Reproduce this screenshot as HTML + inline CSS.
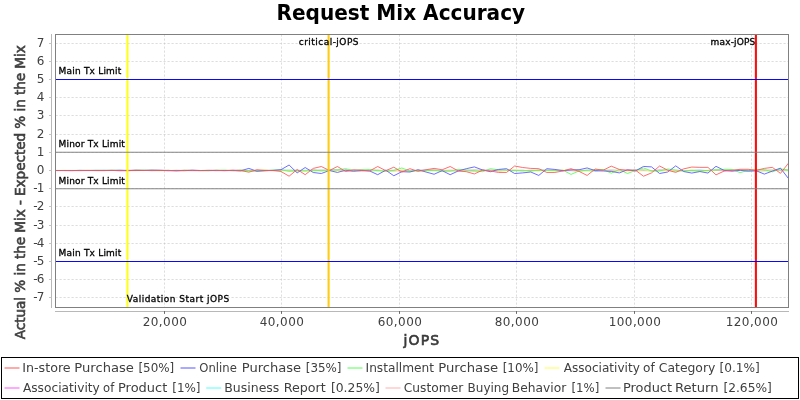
<!DOCTYPE html>
<html><head><meta charset="utf-8"><title>Request Mix Accuracy</title>
<style>html,body{margin:0;padding:0;background:#fff}svg{display:block;will-change:transform;transform:translateZ(0)}text{font-family:'DejaVu Sans','Liberation Sans',sans-serif}</style></head><body>
<svg width="800" height="400" viewBox="0 0 800 400">
<rect width="800" height="400" fill="#fff"/>
<text transform="translate(400.8,20) scale(1.004,1.03)" text-anchor="middle" font-size="20" font-weight="bold" fill="#000">Request Mix Accuracy</text>
<g stroke="#c0c0c0" stroke-width="0.55" stroke-dasharray="2.2 1.8" fill="none"><line x1="55.5" y1="297.50" x2="788.5" y2="297.50"/><line x1="55.5" y1="279.50" x2="788.5" y2="279.50"/><line x1="55.5" y1="261.50" x2="788.5" y2="261.50"/><line x1="55.5" y1="243.50" x2="788.5" y2="243.50"/><line x1="55.5" y1="225.50" x2="788.5" y2="225.50"/><line x1="55.5" y1="206.50" x2="788.5" y2="206.50"/><line x1="55.5" y1="188.50" x2="788.5" y2="188.50"/><line x1="55.5" y1="170.50" x2="788.5" y2="170.50"/><line x1="55.5" y1="152.50" x2="788.5" y2="152.50"/><line x1="55.5" y1="134.50" x2="788.5" y2="134.50"/><line x1="55.5" y1="115.50" x2="788.5" y2="115.50"/><line x1="55.5" y1="97.50" x2="788.5" y2="97.50"/><line x1="55.5" y1="79.50" x2="788.5" y2="79.50"/><line x1="55.5" y1="61.50" x2="788.5" y2="61.50"/><line x1="55.5" y1="43.50" x2="788.5" y2="43.50"/><line x1="164.50" y1="34.5" x2="164.50" y2="307.5"/><line x1="281.50" y1="34.5" x2="281.50" y2="307.5"/><line x1="399.50" y1="34.5" x2="399.50" y2="307.5"/><line x1="516.50" y1="34.5" x2="516.50" y2="307.5"/><line x1="634.50" y1="34.5" x2="634.50" y2="307.5"/><line x1="751.50" y1="34.5" x2="751.50" y2="307.5"/></g>
<g stroke="#b8b8b8" stroke-width="1" fill="none">
<line x1="51.5" y1="34" x2="51.5" y2="308"/>
<line x1="55" y1="311.5" x2="789" y2="311.5"/>
<line x1="49" y1="297.50" x2="51.5" y2="297.50" stroke="#c4c4c4"/>
<line x1="49" y1="279.50" x2="51.5" y2="279.50" stroke="#c4c4c4"/>
<line x1="49" y1="261.50" x2="51.5" y2="261.50" stroke="#c4c4c4"/>
<line x1="49" y1="243.50" x2="51.5" y2="243.50" stroke="#c4c4c4"/>
<line x1="49" y1="225.50" x2="51.5" y2="225.50" stroke="#c4c4c4"/>
<line x1="49" y1="206.50" x2="51.5" y2="206.50" stroke="#c4c4c4"/>
<line x1="49" y1="188.50" x2="51.5" y2="188.50" stroke="#c4c4c4"/>
<line x1="49" y1="170.50" x2="51.5" y2="170.50" stroke="#c4c4c4"/>
<line x1="49" y1="152.50" x2="51.5" y2="152.50" stroke="#c4c4c4"/>
<line x1="49" y1="134.50" x2="51.5" y2="134.50" stroke="#c4c4c4"/>
<line x1="49" y1="115.50" x2="51.5" y2="115.50" stroke="#c4c4c4"/>
<line x1="49" y1="97.50" x2="51.5" y2="97.50" stroke="#c4c4c4"/>
<line x1="49" y1="79.50" x2="51.5" y2="79.50" stroke="#c4c4c4"/>
<line x1="49" y1="61.50" x2="51.5" y2="61.50" stroke="#c4c4c4"/>
<line x1="49" y1="43.50" x2="51.5" y2="43.50" stroke="#c4c4c4"/>
<line x1="164.50" y1="311" x2="164.50" y2="313.9" stroke="#6c6c6c"/>
<line x1="281.50" y1="311" x2="281.50" y2="313.9" stroke="#6c6c6c"/>
<line x1="399.50" y1="311" x2="399.50" y2="313.9" stroke="#6c6c6c"/>
<line x1="516.50" y1="311" x2="516.50" y2="313.9" stroke="#6c6c6c"/>
<line x1="634.50" y1="311" x2="634.50" y2="313.9" stroke="#6c6c6c"/>
<line x1="751.50" y1="311" x2="751.50" y2="313.9" stroke="#6c6c6c"/>
</g>
<g font-size="12" fill="#404040">
<text x="44.3" y="301.10" text-anchor="end" textLength="11.1" lengthAdjust="spacing">-7</text>
<text x="44.3" y="283.10" text-anchor="end" textLength="11.1" lengthAdjust="spacing">-6</text>
<text x="44.3" y="265.10" text-anchor="end" textLength="11.1" lengthAdjust="spacing">-5</text>
<text x="44.3" y="247.10" text-anchor="end" textLength="11.1" lengthAdjust="spacing">-4</text>
<text x="44.3" y="229.10" text-anchor="end" textLength="11.1" lengthAdjust="spacing">-3</text>
<text x="44.3" y="210.10" text-anchor="end" textLength="11.1" lengthAdjust="spacing">-2</text>
<text x="44.3" y="192.10" text-anchor="end" textLength="11.1" lengthAdjust="spacing">-1</text>
<text x="44.3" y="174.10" text-anchor="end">0</text>
<text x="44.3" y="156.10" text-anchor="end">1</text>
<text x="44.3" y="138.10" text-anchor="end">2</text>
<text x="44.3" y="119.10" text-anchor="end">3</text>
<text x="44.3" y="101.10" text-anchor="end">4</text>
<text x="44.3" y="83.10" text-anchor="end">5</text>
<text x="44.3" y="65.10" text-anchor="end">6</text>
<text x="44.3" y="47.10" text-anchor="end">7</text>
<text x="142.80" y="326" textLength="44" lengthAdjust="spacing">20,000</text>
<text x="259.80" y="326" textLength="44" lengthAdjust="spacing">40,000</text>
<text x="377.80" y="326" textLength="44" lengthAdjust="spacing">60,000</text>
<text x="494.80" y="326" textLength="44" lengthAdjust="spacing">80,000</text>
<text x="608.80" y="326" textLength="52" lengthAdjust="spacing">100,000</text>
<text x="725.80" y="326" textLength="52" lengthAdjust="spacing">120,000</text>
</g>
<text x="403.6" y="345.2" font-size="14" fill="#3a3a3a" stroke="#3a3a3a" stroke-width="0.65" textLength="35.6" lengthAdjust="spacing">jOPS</text>
<text transform="translate(25,339.2) rotate(-90)" font-size="13.6" fill="#404040" stroke="#404040" stroke-width="0.6" textLength="294" lengthAdjust="spacing">Actual % in the Mix - Expected % in the Mix</text>
<g fill="none" stroke-width="1" stroke-opacity="0.85" stroke-linejoin="round">
<polyline stroke="#808080" points="55.50,170.51 63.55,170.53 71.61,170.56 79.66,170.58 87.72,170.46 95.77,170.45 103.83,170.49 111.88,170.46 119.94,170.55 127.99,170.58 136.05,170.54 144.10,170.37 152.16,170.66 160.21,170.50 168.27,170.59 176.32,170.40 184.38,170.55 192.43,170.56 200.49,170.53 208.54,170.49 216.60,170.40 224.65,170.55 232.71,170.38 240.76,170.78 248.82,170.67 256.87,170.79 264.93,170.78 272.98,170.30 281.04,170.34 289.09,170.73 297.15,170.72 305.20,170.56 313.26,170.32 321.31,170.27 329.37,170.32 337.42,170.43 345.48,170.75 353.53,170.57 361.59,170.72 369.64,170.48 377.70,170.45 385.75,170.71 393.81,170.68 401.86,170.30 409.92,170.84 417.97,170.28 426.03,170.22 434.08,170.18 442.14,170.58 450.19,170.46 458.25,170.44 466.30,170.40 474.35,170.16 482.41,170.37 490.46,170.64 498.52,170.24 506.57,170.51 514.63,170.43 522.68,170.34 530.74,170.86 538.79,170.31 546.85,170.38 554.90,170.51 562.96,170.48 571.01,170.53 579.07,170.72 587.12,170.48 595.18,170.83 603.23,170.50 611.29,170.39 619.34,170.54 627.40,170.45 635.45,170.17 643.51,170.22 651.56,170.76 659.62,170.29 667.67,170.41 675.73,170.82 683.78,170.60 691.84,170.69 699.89,170.80 707.95,170.47 716.00,170.19 724.06,170.63 732.11,170.23 740.17,170.36 748.22,170.76 756.28,170.24 764.33,170.43 772.39,170.19 780.44,170.34 788.50,170.33"/>
<polyline stroke="#ffafaf" points="55.50,170.53 63.55,170.53 71.61,170.45 79.66,170.56 87.72,170.41 95.77,170.50 103.83,170.48 111.88,170.51 119.94,170.38 127.99,170.38 136.05,170.48 144.10,170.51 152.16,170.42 160.21,170.37 168.27,170.54 176.32,170.42 184.38,170.33 192.43,170.51 200.49,170.60 208.54,170.60 216.60,170.42 224.65,170.44 232.71,170.33 240.76,170.25 248.82,170.69 256.87,170.72 264.93,170.67 272.98,170.73 281.04,170.35 289.09,170.24 297.15,170.21 305.20,170.68 313.26,170.24 321.31,170.63 329.37,170.56 337.42,170.34 345.48,170.80 353.53,170.79 361.59,170.26 369.64,170.65 377.70,170.60 385.75,170.44 393.81,170.37 401.86,170.86 409.92,170.62 417.97,170.55 426.03,170.51 434.08,170.71 442.14,170.44 450.19,170.17 458.25,170.58 466.30,170.47 474.35,170.77 482.41,170.66 490.46,170.38 498.52,170.78 506.57,170.22 514.63,170.21 522.68,170.79 530.74,170.18 538.79,170.59 546.85,170.30 554.90,170.31 562.96,170.65 571.01,170.37 579.07,170.39 587.12,170.28 595.18,170.67 603.23,170.32 611.29,170.17 619.34,170.38 627.40,170.47 635.45,170.78 643.51,170.50 651.56,170.61 659.62,170.34 667.67,170.37 675.73,170.45 683.78,170.73 691.84,170.40 699.89,170.41 707.95,170.73 716.00,170.22 724.06,170.39 732.11,170.77 740.17,170.19 748.22,170.76 756.28,170.62 764.33,170.34 772.39,170.43 780.44,170.46 788.50,170.39"/>
<polyline stroke="#55ffff" points="55.50,170.52 63.55,170.43 71.61,170.45 79.66,170.54 87.72,170.51 95.77,170.57 103.83,170.44 111.88,170.47 119.94,170.36 127.99,170.39 136.05,170.44 144.10,170.42 152.16,170.48 160.21,170.64 168.27,170.47 176.32,170.68 184.38,170.63 192.43,170.40 200.49,170.66 208.54,170.65 216.60,170.64 224.65,170.36 232.71,170.62 240.76,170.84 248.82,170.25 256.87,170.77 264.93,170.25 272.98,170.38 281.04,170.26 289.09,170.17 297.15,170.44 305.20,170.28 313.26,170.83 321.31,170.31 329.37,170.49 337.42,170.35 345.48,170.78 353.53,170.32 361.59,170.19 369.64,170.82 377.70,170.63 385.75,170.45 393.81,170.26 401.86,170.69 409.92,170.73 417.97,170.68 426.03,170.42 434.08,170.32 442.14,170.58 450.19,170.60 458.25,170.57 466.30,170.61 474.35,170.56 482.41,170.80 490.46,170.50 498.52,170.16 506.57,170.56 514.63,170.32 522.68,170.74 530.74,170.36 538.79,170.32 546.85,170.37 554.90,170.49 562.96,170.51 571.01,170.40 579.07,170.21 587.12,170.75 595.18,170.79 603.23,170.32 611.29,170.20 619.34,170.49 627.40,170.54 635.45,170.34 643.51,170.73 651.56,170.67 659.62,170.72 667.67,170.44 675.73,170.63 683.78,170.69 691.84,170.36 699.89,170.17 707.95,170.65 716.00,170.35 724.06,170.56 732.11,170.25 740.17,170.44 748.22,170.67 756.28,170.70 764.33,170.84 772.39,170.51 780.44,170.58 788.50,170.74"/>
<polyline stroke="#ff55ff" points="55.50,170.50 63.55,170.54 71.61,170.53 79.66,170.55 87.72,170.58 95.77,170.48 103.83,170.54 111.88,170.44 119.94,170.66 127.99,170.35 136.05,170.43 144.10,170.35 152.16,170.36 160.21,170.36 168.27,170.47 176.32,170.68 184.38,170.41 192.43,170.62 200.49,170.57 208.54,170.44 216.60,170.49 224.65,170.53 232.71,170.34 240.76,170.42 248.82,170.61 256.87,170.68 264.93,170.24 272.98,170.52 281.04,170.30 289.09,170.61 297.15,170.72 305.20,170.48 313.26,170.27 321.31,170.74 329.37,170.29 337.42,170.20 345.48,170.28 353.53,170.27 361.59,170.85 369.64,170.41 377.70,170.24 385.75,170.82 393.81,170.66 401.86,170.67 409.92,170.48 417.97,170.56 426.03,170.52 434.08,170.30 442.14,170.86 450.19,170.82 458.25,170.77 466.30,170.77 474.35,170.81 482.41,170.16 490.46,170.24 498.52,170.80 506.57,170.50 514.63,170.63 522.68,170.63 530.74,170.61 538.79,170.39 546.85,170.44 554.90,170.60 562.96,170.72 571.01,170.62 579.07,170.77 587.12,170.46 595.18,170.34 603.23,170.59 611.29,170.80 619.34,170.73 627.40,170.59 635.45,170.42 643.51,170.30 651.56,170.59 659.62,170.28 667.67,170.41 675.73,170.55 683.78,170.59 691.84,170.50 699.89,170.35 707.95,170.56 716.00,170.36 724.06,170.53 732.11,170.68 740.17,170.47 748.22,170.36 756.28,170.81 764.33,170.55 772.39,170.55 780.44,170.23 788.50,170.19"/>
<polyline stroke="#ffff55" points="55.50,170.47 63.55,170.38 71.61,170.50 79.66,170.52 87.72,170.44 95.77,170.57 103.83,170.55 111.88,170.37 119.94,170.49 127.99,170.47 136.05,170.76 144.10,170.55 152.16,170.46 160.21,170.76 168.27,170.44 176.32,170.43 184.38,170.74 192.43,170.43 200.49,170.52 208.54,170.40 216.60,170.58 224.65,170.39 232.71,170.37 240.76,171.02 248.82,170.97 256.87,170.31 264.93,170.00 272.98,170.77 281.04,170.55 289.09,170.40 297.15,170.69 305.20,170.65 313.26,170.70 321.31,170.64 329.37,170.40 337.42,170.72 345.48,170.63 353.53,170.21 361.59,171.01 369.64,170.43 377.70,170.25 385.75,170.71 393.81,170.80 401.86,170.17 409.92,170.78 417.97,170.84 426.03,170.57 434.08,170.29 442.14,170.93 450.19,170.69 458.25,170.68 466.30,170.14 474.35,170.57 482.41,170.12 490.46,170.86 498.52,170.68 506.57,170.34 514.63,170.08 522.68,170.55 530.74,170.80 538.79,170.91 546.85,170.47 554.90,170.83 562.96,170.17 571.01,170.13 579.07,170.84 587.12,170.74 595.18,170.17 603.23,170.35 611.29,170.17 619.34,170.67 627.40,170.90 635.45,170.72 643.51,170.18 651.56,170.75 659.62,170.67 667.67,170.59 675.73,170.59 683.78,170.60 691.84,170.05 699.89,170.87 707.95,171.03 716.00,170.02 724.06,170.09 732.11,169.97 740.17,170.57 748.22,170.01 756.28,170.04 764.33,170.80 772.39,170.23 780.44,170.14 788.50,170.32"/>
<polyline stroke="#55ff55" points="55.50,170.54 63.55,170.47 71.61,170.47 79.66,170.38 87.72,170.45 95.77,170.37 103.83,170.39 111.88,170.35 119.94,170.40 127.99,170.70 136.05,170.28 144.10,170.22 152.16,170.26 160.21,170.46 168.27,170.37 176.32,170.67 184.38,170.30 192.43,170.46 200.49,170.63 208.54,170.76 216.60,170.29 224.65,170.21 232.71,170.75 240.76,170.14 248.82,170.61 256.87,170.92 264.93,170.75 272.98,170.18 281.04,170.05 289.09,171.05 297.15,170.36 305.20,171.05 313.26,170.24 321.31,170.70 329.37,170.04 337.42,169.92 345.48,168.70 353.53,170.49 361.59,169.90 369.64,169.50 377.70,170.73 385.75,171.01 393.81,170.38 401.86,168.00 409.92,171.06 417.97,170.86 426.03,170.61 434.08,170.37 442.14,170.91 450.19,171.05 458.25,169.50 466.30,170.06 474.35,170.72 482.41,171.70 490.46,168.70 498.52,169.95 506.57,170.02 514.63,170.65 522.68,170.55 530.74,170.48 538.79,170.33 546.85,170.39 554.90,170.43 562.96,170.20 571.01,174.40 579.07,170.95 587.12,170.20 595.18,169.90 603.23,169.45 611.29,173.20 619.34,169.45 627.40,173.50 635.45,170.50 643.51,167.95 651.56,170.95 659.62,170.95 667.67,169.00 675.73,170.05 683.78,170.70 691.84,170.40 699.89,170.80 707.95,170.40 716.00,169.90 724.06,169.30 732.11,169.60 740.17,172.60 748.22,170.40 756.28,169.90 764.33,169.60 772.39,171.85 780.44,168.85 788.50,170.30"/>
<polyline stroke="#5555ff" points="55.50,170.48 63.55,170.55 71.61,170.61 79.66,170.41 87.72,170.51 95.77,170.45 103.83,170.41 111.88,170.45 119.94,170.30 127.99,170.55 136.05,170.36 144.10,170.53 152.16,170.29 160.21,170.32 168.27,170.69 176.32,170.67 184.38,170.64 192.43,170.28 200.49,170.53 208.54,170.44 216.60,170.60 224.65,170.50 232.71,170.55 240.76,170.80 248.82,168.40 256.87,171.20 264.93,170.50 272.98,170.50 281.04,169.70 289.09,165.00 297.15,172.90 305.20,167.50 313.26,172.50 321.31,173.50 329.37,170.50 337.42,172.45 345.48,170.20 353.53,171.25 361.59,170.50 369.64,170.95 377.70,174.70 385.75,170.20 393.81,175.75 401.86,171.70 409.92,172.00 417.97,169.75 426.03,172.00 434.08,174.25 442.14,170.65 450.19,174.70 458.25,170.95 466.30,168.70 474.35,166.90 482.41,169.90 490.46,171.70 498.52,169.45 506.57,168.70 514.63,173.50 522.68,172.90 530.74,172.00 538.79,175.45 546.85,168.70 554.90,169.45 562.96,170.65 571.01,169.90 579.07,169.75 587.12,167.95 595.18,170.65 603.23,170.95 611.29,171.40 619.34,172.90 627.40,169.75 635.45,170.95 643.51,166.45 651.56,166.90 659.62,173.50 667.67,172.00 675.73,165.85 683.78,171.55 691.84,173.05 699.89,171.55 707.95,173.05 716.00,166.30 724.06,170.35 732.11,171.10 740.17,170.35 748.22,171.10 756.28,170.80 764.33,174.10 772.39,171.10 780.44,168.10 788.50,178.60"/>
<polyline stroke="#ff5555" points="55.50,170.56 63.55,170.49 71.61,170.53 79.66,170.48 87.72,170.47 95.77,170.60 103.83,170.62 111.88,170.42 119.94,170.62 127.99,170.63 136.05,170.26 144.10,170.51 152.16,170.34 160.21,170.51 168.27,170.43 176.32,170.67 184.38,170.44 192.43,170.32 200.49,170.49 208.54,170.38 216.60,170.42 224.65,170.71 232.71,170.38 240.76,170.50 248.82,172.20 256.87,169.70 264.93,170.50 272.98,170.50 281.04,171.50 289.09,176.20 297.15,169.50 305.20,174.70 313.26,168.40 321.31,166.50 329.37,170.50 337.42,166.50 345.48,171.40 353.53,169.90 361.59,170.20 369.64,170.95 377.70,166.50 385.75,170.65 393.81,167.20 401.86,172.00 409.92,168.70 417.97,171.25 426.03,169.75 434.08,168.40 442.14,169.75 450.19,166.50 458.25,170.95 466.30,171.70 474.35,173.95 482.41,170.20 490.46,170.95 498.52,172.45 506.57,172.45 514.63,166.00 522.68,167.50 530.74,168.40 538.79,168.70 546.85,172.45 554.90,172.45 562.96,170.95 571.01,168.70 579.07,171.40 587.12,175.45 595.18,169.00 603.23,170.20 611.29,166.15 619.34,169.45 627.40,170.20 635.45,170.20 643.51,176.20 651.56,172.90 659.62,166.00 667.67,170.20 675.73,172.40 683.78,168.85 691.84,167.05 699.89,167.35 707.95,167.35 716.00,174.85 724.06,171.10 732.11,170.35 740.17,169.30 748.22,169.30 756.28,170.35 764.33,168.40 772.39,167.35 780.44,173.35 788.50,163.10"/>
</g>
<line x1="127.45" y1="34.5" x2="127.45" y2="307.5" stroke="#ffff00" stroke-opacity="0.9" stroke-width="2.1"/>
<line x1="328.6" y1="34.5" x2="328.6" y2="307.5" stroke="#ffc800" stroke-opacity="0.92" stroke-width="2.1"/>
<line x1="755.9" y1="34.5" x2="755.9" y2="307.5" stroke="#ff0000" stroke-opacity="0.95" stroke-width="2.1"/>
<line x1="55.5" y1="79.50" x2="788.5" y2="79.50" stroke="#0000ff" stroke-opacity="0.97" stroke-width="1.1"/>
<line x1="55.5" y1="261.50" x2="788.5" y2="261.50" stroke="#0000ff" stroke-opacity="0.97" stroke-width="1.1"/>
<line x1="55.5" y1="152.30" x2="788.5" y2="152.30" stroke="#808080" stroke-opacity="0.95" stroke-width="1.05"/>
<line x1="55.5" y1="188.70" x2="788.5" y2="188.70" stroke="#808080" stroke-opacity="0.95" stroke-width="1.05"/>
<g font-size="9" fill="#000" stroke="#000" stroke-width="0.3" lengthAdjust="spacing">
<text x="58.6" y="74" textLength="62.7" lengthAdjust="spacing">Main Tx Limit</text>
<text x="58.6" y="147" textLength="66.3" lengthAdjust="spacing">Minor Tx Limit</text>
<text x="58.6" y="184" textLength="66.3" lengthAdjust="spacing">Minor Tx Limit</text>
<text x="58.6" y="256" textLength="62.7" lengthAdjust="spacing">Main Tx Limit</text>
<text x="126.75" y="302" textLength="102.4" lengthAdjust="spacing">Validation Start jOPS</text>
<text x="298.75" y="45" textLength="59.75" lengthAdjust="spacing">critical-jOPS</text>
<text x="710.6" y="45" textLength="44.6" lengthAdjust="spacing">max-jOPS</text>
</g>
<rect x="55.5" y="34.5" width="733" height="273" fill="none" stroke="#808080" stroke-width="1"/>
<rect x="1.5" y="357.5" width="797" height="41" fill="#fff" stroke="#000" stroke-width="1"/>
<g font-size="12.4" fill="#404040">
<line x1="4.5" y1="368" x2="19.5" y2="368" stroke="#ff5555" stroke-width="1"/>
<text><tspan x="22.26" y="372" textLength="48.41" lengthAdjust="spacingAndGlyphs">In-store</tspan> <tspan x="74.32" y="372" textLength="59.62" lengthAdjust="spacingAndGlyphs">Purchase</tspan> <tspan x="138.48" y="372" textLength="35.80" lengthAdjust="spacingAndGlyphs">[50%]</tspan></text>
<line x1="180.5" y1="368" x2="195.5" y2="368" stroke="#5555ff" stroke-width="1"/>
<text><tspan x="199.35" y="372" textLength="37.52" lengthAdjust="spacingAndGlyphs">Online</tspan> <tspan x="241.73" y="372" textLength="59.47" lengthAdjust="spacingAndGlyphs">Purchase</tspan> <tspan x="305.78" y="372" textLength="35.75" lengthAdjust="spacingAndGlyphs">[35%]</tspan></text>
<line x1="347.5" y1="368" x2="362.5" y2="368" stroke="#55ff55" stroke-width="1"/>
<text><tspan x="365.56" y="372" textLength="68.49" lengthAdjust="spacingAndGlyphs">Installment</tspan> <tspan x="438.21" y="372" textLength="59.98" lengthAdjust="spacingAndGlyphs">Purchase</tspan> <tspan x="502.73" y="372" textLength="35.80" lengthAdjust="spacingAndGlyphs">[10%]</tspan></text>
<line x1="544.5" y1="368" x2="559.5" y2="368" stroke="#ffff55" stroke-width="1"/>
<text><tspan x="563.66" y="372" textLength="76.20" lengthAdjust="spacingAndGlyphs">Associativity</tspan> <tspan x="643.08" y="372" textLength="11.69" lengthAdjust="spacingAndGlyphs">of</tspan> <tspan x="658.80" y="372" textLength="56.56" lengthAdjust="spacingAndGlyphs">Category</tspan> <tspan x="719.46" y="372" textLength="40.34" lengthAdjust="spacingAndGlyphs">[0.1%]</tspan></text>
<line x1="4.5" y1="388" x2="19.5" y2="388" stroke="#ff55ff" stroke-width="1"/>
<text><tspan x="22.90" y="392" textLength="76.96" lengthAdjust="spacingAndGlyphs">Associativity</tspan> <tspan x="103.11" y="392" textLength="11.17" lengthAdjust="spacingAndGlyphs">of</tspan> <tspan x="117.99" y="392" textLength="49.32" lengthAdjust="spacingAndGlyphs">Product</tspan> <tspan x="172.22" y="392" textLength="28.31" lengthAdjust="spacingAndGlyphs">[1%]</tspan></text>
<line x1="206.25" y1="388" x2="221.25" y2="388" stroke="#55ffff" stroke-width="1"/>
<text><tspan x="224.27" y="392" textLength="55.09" lengthAdjust="spacingAndGlyphs">Business</tspan> <tspan x="283.77" y="392" textLength="42.03" lengthAdjust="spacingAndGlyphs">Report</tspan> <tspan x="330.94" y="392" textLength="48.87" lengthAdjust="spacingAndGlyphs">[0.25%]</tspan></text>
<line x1="385.5" y1="388" x2="400.5" y2="388" stroke="#ffafaf" stroke-width="1"/>
<text><tspan x="403.81" y="392" textLength="59.44" lengthAdjust="spacingAndGlyphs">Customer</tspan> <tspan x="467.57" y="392" textLength="41.52" lengthAdjust="spacingAndGlyphs">Buying</tspan> <tspan x="511.80" y="392" textLength="54.45" lengthAdjust="spacingAndGlyphs">Behavior</tspan> <tspan x="571.49" y="392" textLength="27.77" lengthAdjust="spacingAndGlyphs">[1%]</tspan></text>
<line x1="605.5" y1="388" x2="620.5" y2="388" stroke="#808080" stroke-width="1"/>
<text><tspan x="622.99" y="392" textLength="49.06" lengthAdjust="spacingAndGlyphs">Product</tspan> <tspan x="674.98" y="392" textLength="43.61" lengthAdjust="spacingAndGlyphs">Return</tspan> <tspan x="723.45" y="392" textLength="48.35" lengthAdjust="spacingAndGlyphs">[2.65%]</tspan></text>
</g>
</svg></body></html>
